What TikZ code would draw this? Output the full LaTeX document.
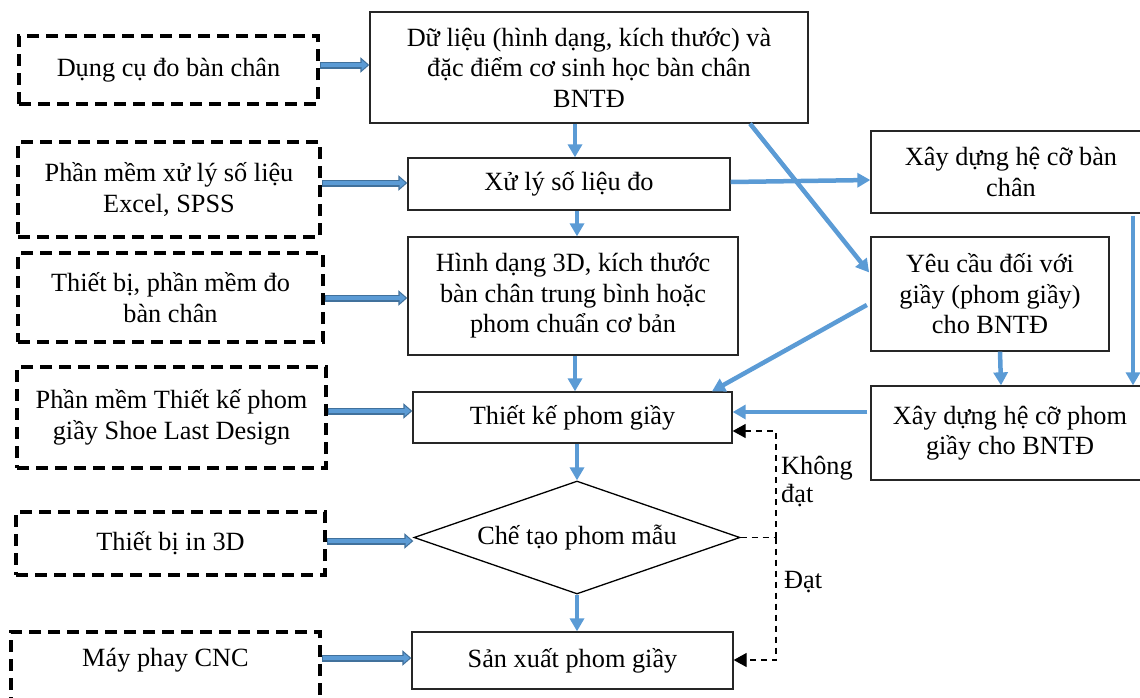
\documentclass[tikz,border=0pt]{standalone}
\usepackage{fontspec}
\setmainfont{Liberation Serif}
\usetikzlibrary{arrows.meta,shapes.geometric,calc}
\definecolor{lblue}{HTML}{5B9BD5}
\definecolor{dblue}{HTML}{41719C}
\begin{document}
\begin{tikzpicture}[x=1pt,y=-1pt,
  tx/.style={font=\fontsize{26.3}{30.5}\selectfont, align=center, inner sep=0pt},
  box/.style={tx, rectangle, draw=black!85, line width=1.3pt},
  dbox/.style={tx, rectangle, draw=black, line width=3.5pt, dash pattern=on 12pt off 7pt},
  barrow/.style={draw=lblue, line width=4.5pt, -{Triangle[length=13pt,width=14pt]}},
  fat/.style={draw=dblue, line width=7pt, -{Triangle[length=9pt,width=15pt]},
    postaction={draw=lblue, line width=4pt, -{Triangle[length=6pt,width=10pt]}, shorten >=1.8pt, shorten <=1.5pt}},
  dline/.style={draw=black, line width=1.3pt, dash pattern=on 6pt off 5pt},
  dtip/.style={dline, -{Triangle[length=13pt,width=14pt]}}
]
\useasboundingbox (0,0) rectangle (1140,697);

% left dashed boxes
\node[dbox, minimum width=299pt, minimum height=68pt] (d1) at (168.5,70) {Dụng cụ đo bàn chân};
\node[dbox, minimum width=302pt, minimum height=95pt] (d2) at (169,189.5) {Phần mềm xử lý số liệu\\Excel, SPSS};
\node[dbox, minimum width=305pt, minimum height=89pt] (d3) at (170.5,297.5) {Thiết bị, phần mềm đo\\bàn chân};
\node[dbox, minimum width=309pt, minimum height=101pt] (d4) at (171.5,417.5) {Phần mềm Thiết kế phom\\giầy Shoe Last Design};
\node[dbox, minimum width=309pt, minimum height=63pt] (d5) at (170.5,543.5) {Thiết bị in 3D};
\node[dbox, minimum width=309pt, minimum height=96pt, text depth=46pt] (d6) at (165.5,680) {Máy phay CNC};

% middle column
\node[box, minimum width=438pt, minimum height=111pt] (A) at (589,67.5) {Dữ liệu (hình dạng, kích thước) và\\đặc điểm cơ sinh học bàn chân\\BNTĐ};
\node[box, minimum width=322pt, minimum height=52pt] (B) at (569,184) {Xử lý số liệu đo};
\node[box, minimum width=330pt, minimum height=118pt] (C) at (573,296) {Hình dạng 3D, kích thước\\bàn chân trung bình hoặc\\phom chuẩn cơ bản};
\node[box, minimum width=319pt, minimum height=51pt] (D) at (572.5,417.5) {Thiết kế phom giầy};
\node[tx, diamond, draw=black, line width=1.3pt, minimum width=326pt, minimum height=113pt, aspect=2.9] (E) at (577,537.5) {Chế tạo phom mẫu};
\node[box, minimum width=321pt, minimum height=57pt] (F) at (572.5,660.5) {Sản xuất phom giầy};

% right column
\node[box, minimum width=280pt, minimum height=82pt] (R1) at (1011,172) {Xây dựng hệ cỡ bàn\\chân};
\node[box, minimum width=238pt, minimum height=114pt] (R2) at (990,294) {Yêu cầu đối với\\giầy (phom giầy)\\cho BNTĐ};
\node[box, minimum width=278pt, minimum height=94pt] (R3) at (1010,433) {Xây dựng hệ cỡ phom\\giầy cho BNTĐ};

% labels
\node[tx, align=left, anchor=north west] (lk) at (781,456) {Không\\[-3pt]đạt};
\node[tx, anchor=west] (ld) at (784,582) {Đạt};

% fat input arrows
\draw[fat] (d1.east |- 0,65) -- (A.west |- 0,65);
\draw[fat] (d2.east |- 0,183) -- (B.west |- 0,183);
\draw[fat] (d3.east |- 0,298) -- (C.west |- 0,298);
\draw[fat] (d4.east |- 0,411) -- (D.west |- 0,411);
\draw[fat] (d5.east |- 0,541) -- (E.west |- 0,541);
\draw[fat] (d6.east |- 0,658) -- (F.west |- 0,658);

% blue flow arrows
\draw[barrow] (A.south -| 575,0) -- (B.north -| 575,0);
\draw[barrow] (B.south -| 577,0) -- (C.north -| 577,0);
\draw[barrow] (C.south -| 575,0) -- (D.north -| 575,0);
\draw[barrow] (D.south -| E.north) -- (E.north);
\draw[barrow] (E.south) -- (F.north -| E.south);
\draw[barrow] (B.east |- 0,182) -- (R1.west |- 0,180);
\draw[barrow, shorten >=2pt] (A.south -| 750,0) -- (R2.west |- 0,274);
\draw[barrow, shorten <=4pt] (R2.west |- 0,303) -- (D.north -| 712,0);
\draw[barrow] (R2.south -| 1000,0) -- (R3.north -| 1001,0);
\draw[barrow, shorten <=2pt] (R1.south -| 1133,0) -- (R3.north -| 1133,0);
\draw[barrow, shorten <=3pt] (R3.west |- 0,412) -- (D.east |- 0,412);

% dashed feedback
\coordinate (jn) at (776,537.5);
\draw[dline] (E.east) -- (jn);
\draw[dtip] (jn) |- (D.east |- 0,431);
\draw[dtip] (jn) |- (F.east |- 0,660);
\end{tikzpicture}
\end{document}
